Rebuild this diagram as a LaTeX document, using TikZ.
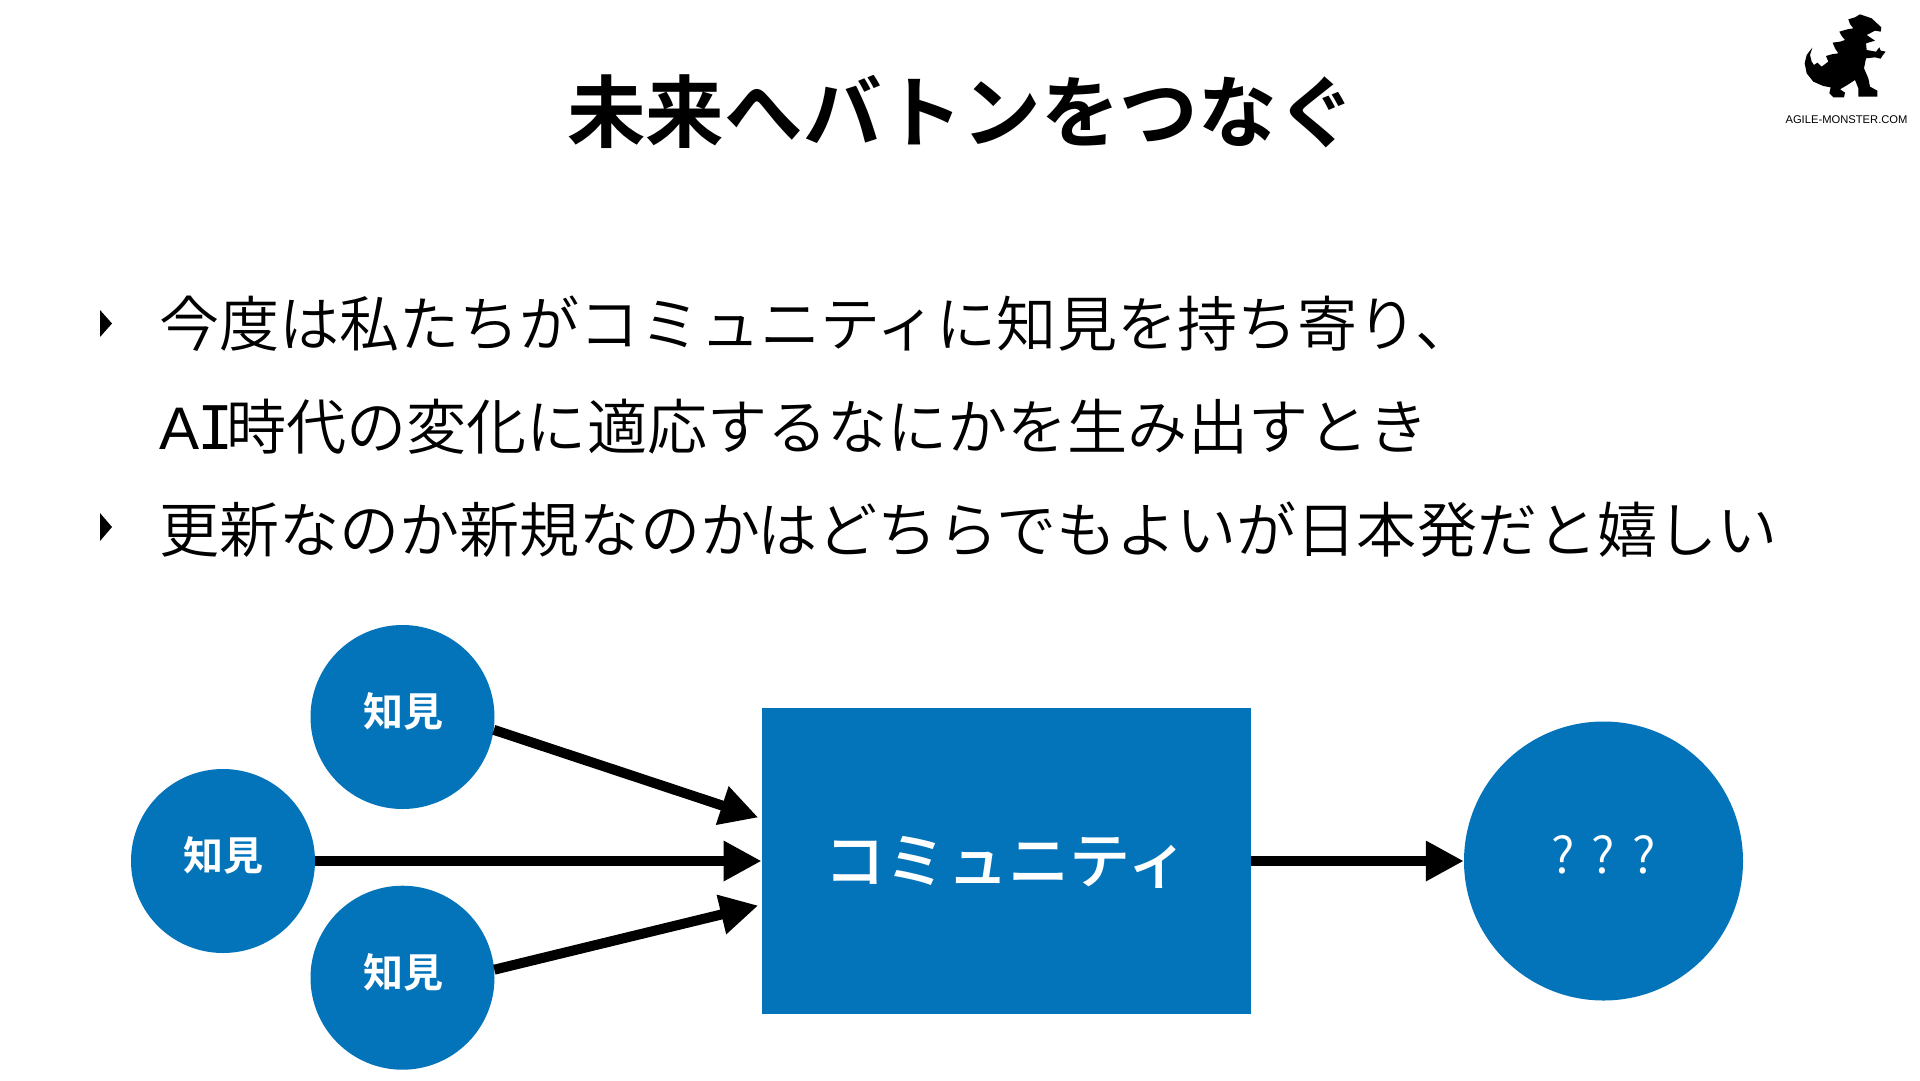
\documentclass[tikz,border=0pt]{standalone}
\usepackage{fontspec}
\setmainfont{Noto Sans CJK JP}
\newfontfamily\jplight{Noto Sans CJK JP DemiLight}
\newfontfamily\jpbold{Noto Sans CJK JP Bold}
\newfontfamily\jpmedium{Noto Sans CJK JP Medium}
\newfontfamily\latinA{Liberation Sans}
\newfontfamily\latinI{DejaVu Sans Mono}
\definecolor{cblue}{HTML}{0474BA}
\usetikzlibrary{arrows.meta}
\tikzset{
  titletext/.style={font=\jpbold\fontsize{78.6}{79}\selectfont,inner sep=0pt,anchor=center},
  bodytext/.style={font=\jplight\fontsize{60.1}{60}\selectfont,inner sep=0pt,anchor=west},
  bluecircle/.style={circle,fill=cblue,inner sep=0pt,text=white},
  knowledge/.style={bluecircle,minimum size=184,font=\jpbold\fontsize{40}{40}\selectfont},
  arrowline/.style={draw=black,line width=10,-{Triangle[length=38,width=38]}},
}
\begin{document}
\begin{tikzpicture}[x=1pt,y=-1pt]
\useasboundingbox (0,0) rectangle (1920,1080);
\fill[white] (0,0) rectangle (1920,1080);
\node[titletext] (title) at (961.5,112) {未来へバトンをつなぐ};
\fill (100,310) -- (112,323.5) -- (100,337) -- cycle;
\fill (100,513) -- (112,527) -- (100,541) -- cycle;
\node[bodytext] (l1) at (159,324) {今度は私たちがコミュニティに知見を持ち寄り、};
\node[bodytext] (l2) at (159,427) {{\latinA A}{\latinI\kern-2pt I\kern-7pt}時代の変化に適応するなにかを生み出すとき};
\node[bodytext] (l3) at (159,529.5) {更新なのか新規なのかはどちらでもよいが日本発だと嬉しい};
\node[knowledge] (k1) at (402.5,717) {\raisebox{14pt}{\kern1pt 知見}};
\node[knowledge] (k2) at (223,861) {\raisebox{14pt}{\kern1pt 知見}};
\node[knowledge] (k3) at (402.5,977.7) {\raisebox{14pt}{\kern1pt 知見}};
\node[fill=cblue,minimum width=489.5,minimum height=306.5,inner sep=0pt,text=white,font=\jpmedium\fontsize{61.2}{61}\selectfont] (comm) at (1006.5,861) {\raisebox{-22.5pt}[0pt][0pt]{コミュニティ}};
\node[bluecircle,minimum size=279,font=\jplight\fontsize{50}{50}\selectfont] (q) at (1603.5,861) {\raisebox{14pt}{?\hspace{17pt}?\hspace{17pt}?}};
\coordinate (t1) at (758.3,817.5);
\coordinate (t3) at (758.3,905.5);
\draw[arrowline] (k1.-8) -- (t1);
\draw[arrowline] (k2) -- (comm);
\draw[arrowline] (k3.5) -- (t3);
\draw[arrowline] (comm) -- (q);
\begin{scope}[shift={(1760,0)},x=0.3333pt,y=-0.3333pt]
\fill[line join=round] (157,143) -- (140,165) -- (134,190) -- (140,220) -- (160,245) -- (190,258) -- (212,262) -- (208,280) -- (220,292) -- (252,292) -- (255,278) -- (240,268) -- (262,255) -- (285,240) -- (295,265) -- (295,290) -- (352,290) -- (352,272) -- (330,260) -- (325,235) -- (312,205) -- (318,175) -- (345,172) -- (362,176) -- (368,166) -- (377,155) -- (362,152) -- (358,142) -- (348,155) -- (320,150) -- (318,130) -- (345,122) -- (320,105) -- (345,92) -- (362,95) -- (364,82) -- (335,55) -- (300,43) -- (285,52) -- (265,58) -- (270,72) -- (280,85) -- (262,88) -- (238,95) -- (245,108) -- (255,120) -- (240,125) -- (218,128) -- (225,145) -- (235,160) -- (215,163) -- (198,168) -- (205,185) -- (185,200) -- (172,188) -- (162,195) -- (155,185) -- (150,165) -- cycle;
\end{scope}
\node[inner sep=0pt,font=\fontspec{Liberation Sans}\fontsize{11.2}{11.2}\selectfont] (logo) at (1846.5,120) {AGILE-MONSTER.COM};
\end{tikzpicture}
\end{document}
